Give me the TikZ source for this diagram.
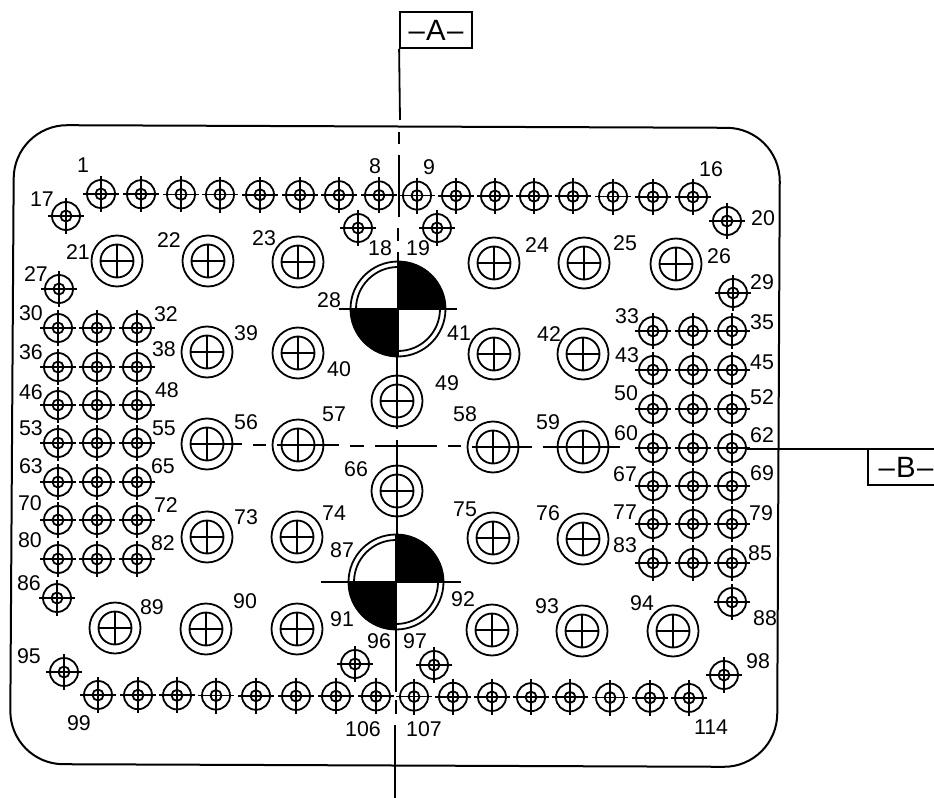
\documentclass[tikz,border=0pt]{standalone}
\usepackage{fontspec}
\setmainfont{Liberation Sans}
\tikzset{
    holeline/.style={line width=1.35pt},
    axisline/.style={line width=1.35pt},
    numlabel/.style={font=\fontsize{16}{17}\selectfont,inner sep=0pt},
    datumbox/.style={draw,line width=1.35pt,inner sep=0pt,minimum width=54pt,minimum height=27pt,font=\fontsize{22}{23}\selectfont},
    datumtext/.style={inner sep=0pt,font=\fontsize{22}{23}\selectfont},
    pics/pinhole/.style={code={
        \draw[holeline] (0,0) circle (14) (0,0) circle (5.5);
        \draw[holeline] (-18,0) -- (18,0) (0,-18) -- (0,18);
    }},
    pics/bolthole/.style={code={
        \draw[holeline] (0,0) circle (25.5) (0,0) circle (16.5);
        \draw[holeline] (-16.5,0) -- (16.5,0) (0,-16.5) -- (0,16.5);
    }},
    pics/target/.style={code={
        \draw[holeline] (0,0) circle (47.5) (0,0) circle (42);
        \begin{scope}
            \clip (0,0) rectangle (50,-50);
            \fill (0,0) circle (48);
        \end{scope}
        \begin{scope}
            \clip (0,0) rectangle (-50,50);
            \fill (0,0) circle (48);
        \end{scope}
    }},
}
\begin{document}
\begin{tikzpicture}[x=0.75pt,y=-0.75pt]
        \useasboundingbox (0,0) rectangle (934,798);
        % Plate
        \draw[line width=1.5pt,rounded corners=40pt] (14,125) -- (780,128) -- (777,767) -- (10,764) -- cycle;
        % Top and bottom rows
        \foreach \x in {101,141,181,220,260,300,339,379,417,456,495,534,573,613,653,693}
            \pic at (\x,{194+(\x-100)*0.005}) {pinhole};
        \foreach \x in {98,138,177,216,256,296,336,376,414,453,492,531,570,610,650,689}
            \pic at (\x,{695+(\x-100)*0.005}) {pinhole};
        % Left block
        \foreach \y in {328,367,405,443,482,520,559}
            \foreach \x in {58,97,137}
                \pic at (\x,\y) {pinhole};
        % Right block
        \foreach \y in {331,370,409,448,486,524,563}
            \foreach \x in {653,693,732}
                \pic at (\x,\y) {pinhole};
        % Loose pins
        \foreach \x/\y in {66/216,358/228,437/228,727/221,59/289,733/293,57/598,732/602,64/672,355/664,434/665,724/675}
            \pic at (\x,\y) {pinhole};
        % Bolt holes
        \foreach \x/\y in {117/261,208/261,298/262,494/263,584/263,676/264,
                207/352,298/353,494/354,583/354,397/401,
                207/444,298/445,493/447,583/447,397/491,
                207/537,297/537,493/538,583/539,
                115/628,206/629,297/629,492/630,582/631,673/631}
            \pic at (\x,\y) {bolthole};
        % Targets
        \pic at (398,309) {target};
        \pic at (396,582) {target};
        \draw[axisline] (339,309) -- (457,309);
        \draw[axisline] (321,582) -- (461,582);
        % Datum A
        \node[datumbox] (boxA) at (436,30) {–\kern1ptA\kern1pt–};
        \draw[axisline] (boxA.south west) -- (400,120);
        \draw[axisline] (399,132) -- (399,144);
        \draw[axisline] (399,155) -- (399,217);
        \draw[axisline] (398,228) -- (398,241);
        \draw[axisline] (398,252) -- (398,357);
        \draw[axisline] (397,357) -- (397,429);
        \draw[axisline] (397,440) -- (397,534);
        \draw[axisline] (396,534) -- (396,692);
        \draw[axisline] (396,700) -- (396,714);
        \draw[axisline] (395,725) -- (395,798);
        % Datum B
        \node[datumtext] (boxB) at (906,467) {–\kern1ptB\kern1pt–};
        \draw[axisline] (934,449) -- (747,449);
        \draw[axisline] (868,449) -- (868,485) -- (934,485);
        \draw[axisline] (207,444) -- (242,444);
        \draw[axisline] (253,445) -- (266,445);
        \draw[axisline] (277,445) -- (339,445);
        \draw[axisline] (350,446) -- (364,446);
        \draw[axisline] (375,446) -- (437,446);
        \draw[axisline] (448,446) -- (461,446);
        \draw[axisline] (472,447) -- (532,447);
        \draw[axisline] (543,447) -- (620,447);
        % Numbers
        \foreach \x/\y/\t in {83/165/1,375/166/8,429/167/9,711/169/16,42/199/17,763/218/20,380/248/18,418/248/19,
                78/252/21,169/240/22,264/238/23,537/245/24,625/243/25,719/256/26,36/274/27,762/282/29,329/300/28,
                31/313/30,166/314/32,627/316/33,762/322/35,31/352/36,164/349/38,246/333/39,339/369/40,459/333/41,
                549/334/42,627/355/43,762/362/45,31/392/46,167/390/48,447/383/49,626/393/50,762/397/52,
                31/428/53,164/428/55,246/422/56,334/414/57,465/414/58,548/422/59,626/433/60,762/435/62,
                31/466/63,163/466/65,356/469/66,625/474/67,762/473/69,30/503/70,166/505/72,246/517/73,
                334/513/74,465/509/75,548/513/76,625/512/77,761/513/79,30/540/80,163/543/82,625/545/83,
                760/553/85,29/583/86,342/550/87,765/618/88,152/607/89,245/601/90,342/619/91,463/599/92,
                547/606/93,642/603/94,29/656/95,379/641/96,415/641/97,758/661/98,79/723/99,
                363/729/106,424/729/107,711/727/114}
            \node[numlabel] (n\t) at (\x,\y) {\t};
    \end{tikzpicture}
\end{document}
